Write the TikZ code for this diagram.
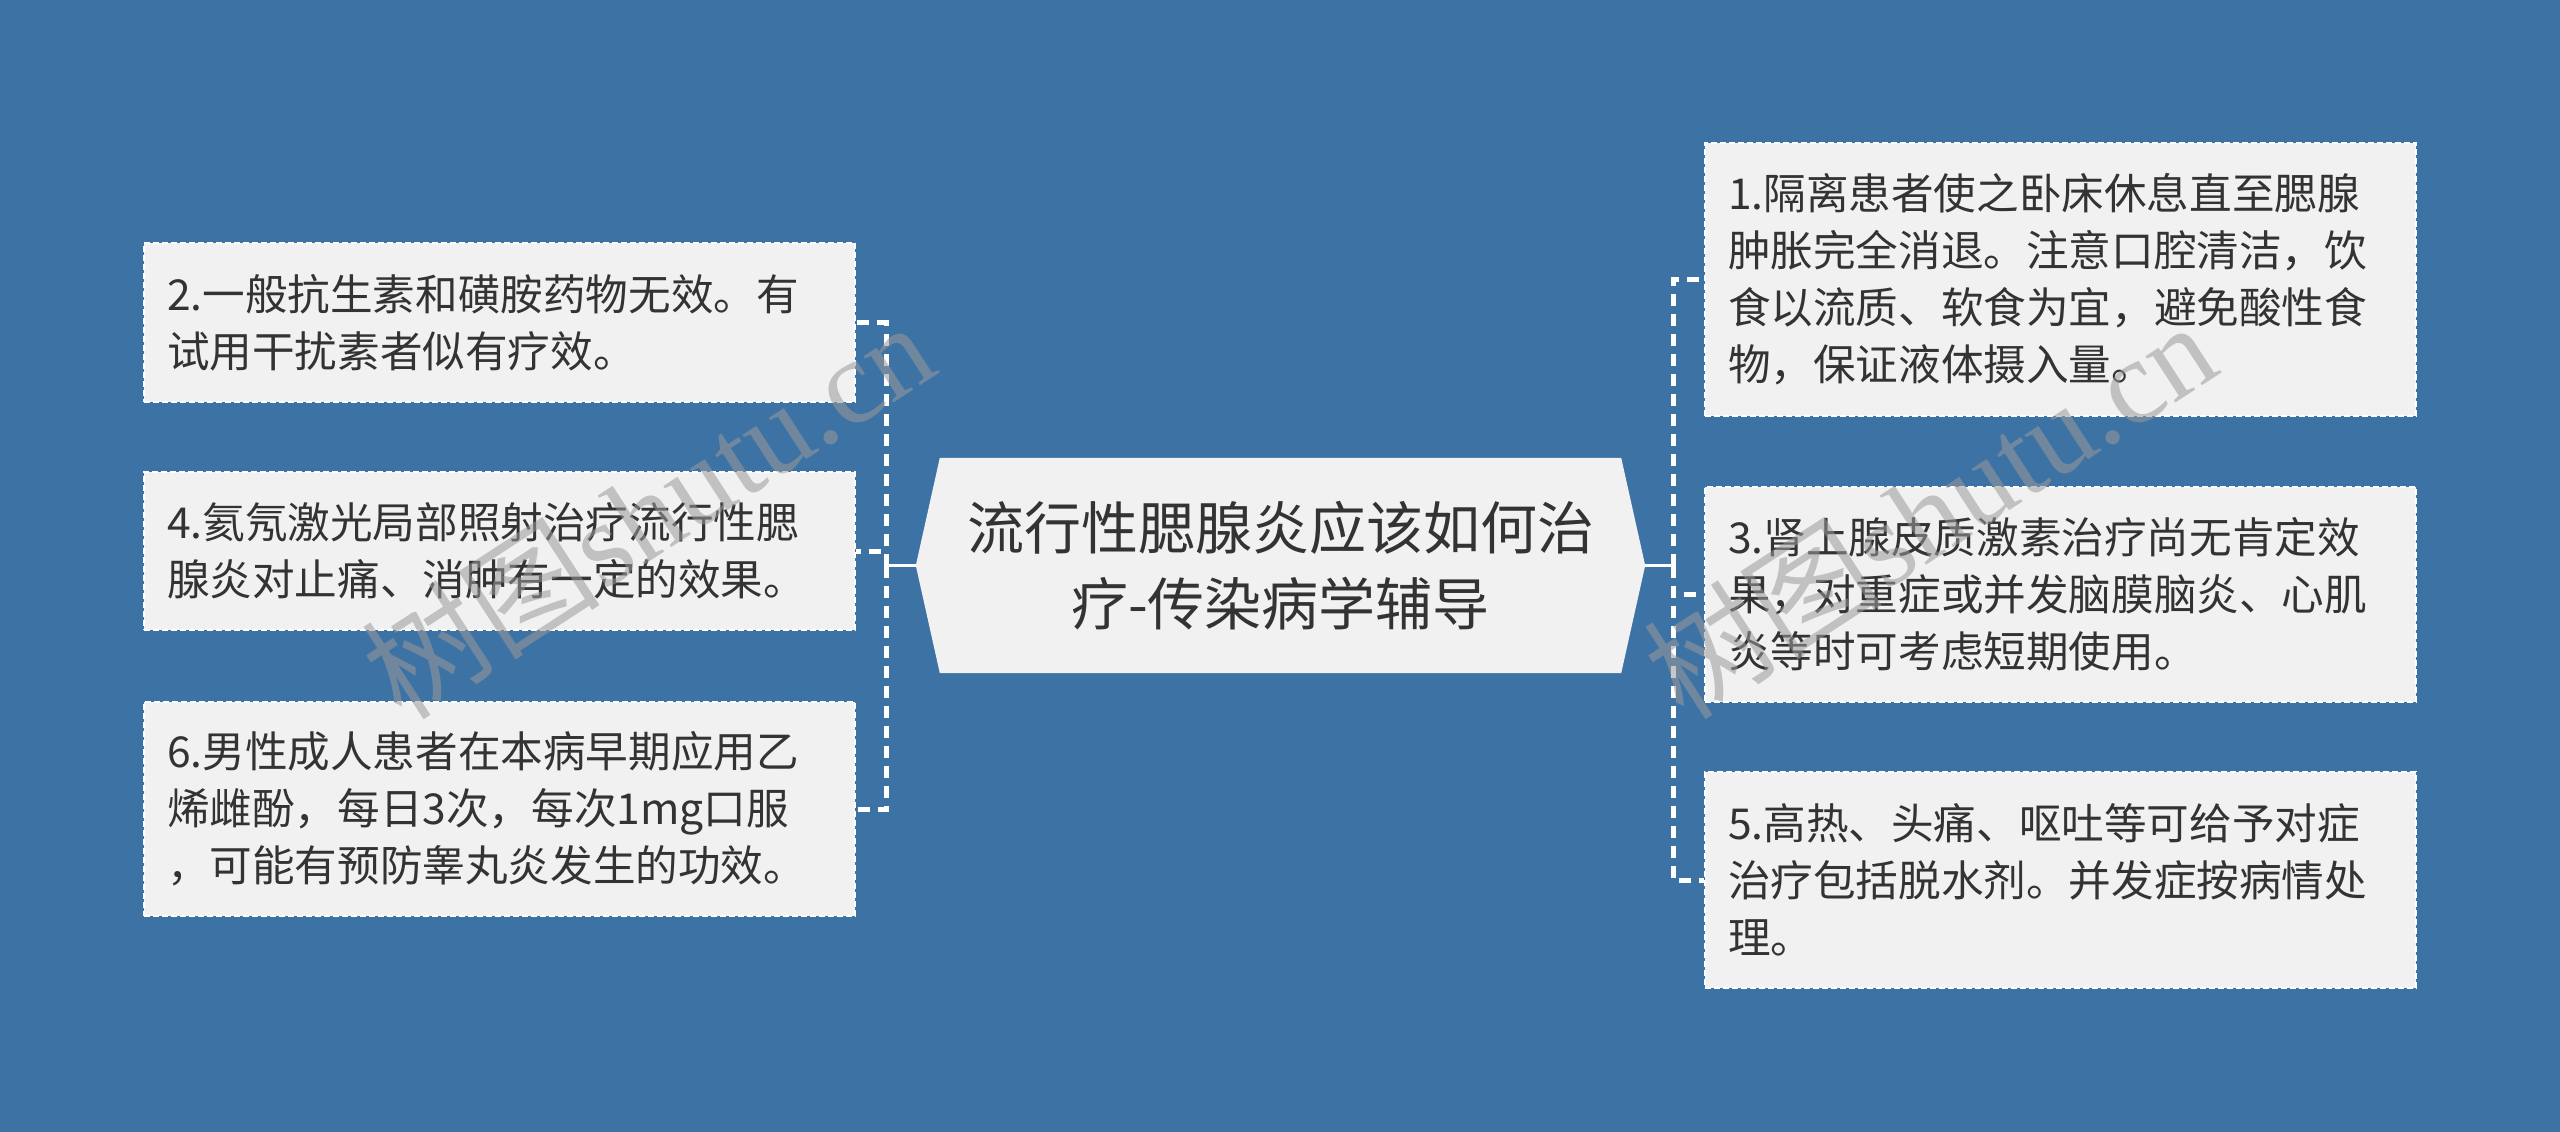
\documentclass[tikz,border=0pt]{standalone}
\usepackage{fontspec}
\newfontfamily\cjk{Noto Sans CJK SC}
\newfontfamily\wmlatin{Liberation Serif}
\usetikzlibrary{backgrounds}
\definecolor{bgblue}{HTML}{3D72A5}
\definecolor{boxfill}{HTML}{F1F1F1}
\definecolor{txt}{HTML}{333333}
\definecolor{wmgray}{HTML}{9A9A9A}
\begin{document}
\begin{tikzpicture}[x=1pt,y=-1pt,
  leafbox/.style={draw=white, line width=2pt, dash pattern=on 6pt off 3pt,
    fill=boxfill, text=txt, font={\cjk\fontsize{42.6pt}{57pt}\selectfont},
    align=left, text width=665pt, inner xsep=23pt, inner ysep=0pt,
    minimum width=711pt},
  titlebox/.style={text=txt, font={\cjk\fontsize{57pt}{76pt}\selectfont},
    align=center, inner sep=0pt, minimum width=729pt, minimum height=215pt},
  conn/.style={draw=white, line width=5pt, dash pattern=on 12pt off 8pt},
  trunk/.style={draw=white, line width=3.5pt},
  hexfill/.style={fill=boxfill},
  wm/.style={text=wmgray, text opacity=0.55, inner sep=0pt, rotate=33,
    font={\fontsize{120pt}{120pt}\selectfont}}
]
\begin{scope}[on background layer]
  \fill[bgblue] (0,0) rectangle (2560,1132);
\end{scope}

% central topic
\node[titlebox] (title) at (1280.5,565.5) {流行性腮腺炎应该如何治\\疗-传染病学辅导};
\begin{scope}[on background layer]
  \fill[hexfill] (title.west) -- ([xshift=24pt]title.north west)
    -- ([xshift=-24pt]title.north east) -- (title.east)
    -- ([xshift=-24pt]title.south east) -- ([xshift=24pt]title.south west) -- cycle;
\end{scope}

% left branches
\node[leafbox, minimum height=159pt] (b2) at (499.5,322.5)
  {2.一般抗生素和磺胺药物无效。有\\试用干扰素者似有疗效。};
\node[leafbox, minimum height=158pt] (b4) at (499.5,551)
  {4.氦氖激光局部照射治疗流行性腮\\腺炎对止痛、消肿有一定的效果。};
\node[leafbox, minimum height=214pt] (b6) at (499.5,809)
  {6.男性成人患者在本病早期应用乙\\烯雌酚，每日3次，每次1mg口服\\，可能有预防睾丸炎发生的功效。};

% right branches
\node[leafbox, minimum height=273pt] (b1) at (2060.5,279.5)
  {1.隔离患者使之卧床休息直至腮腺\\肿胀完全消退。注意口腔清洁，饮\\食以流质、软食为宜，避免酸性食\\物，保证液体摄入量。};
\node[leafbox, minimum height=215pt] (b3) at (2060.5,594.5)
  {3.肾上腺皮质激素治疗尚无肯定效\\果，对重症或并发脑膜脑炎、心肌\\炎等时可考虑短期使用。};
\node[leafbox, minimum height=216pt] (b5) at (2060.5,880)
  {5.高热、头痛、呕吐等可给予对症\\治疗包括脱水剂。并发症按病情处\\理。};

% connectors
\coordinate (lj) at (886,565.5);
\coordinate (rj) at (1673,565.5);
\draw[trunk] (title.west) -- (lj);
\draw[trunk] (title.east) -- (rj);
\draw[conn] (lj) |- (b2.east);
\draw[conn] (lj) |- (b4.east);
\draw[conn] (lj) |- (b6.east);
\draw[conn] (rj) |- (b1.west);
\draw[conn] (rj) |- (b3.west);
\draw[conn] (rj) |- (b5.west);

% watermarks
\node[wm] (wm1) at (647,509) {\cjk 树图\wmlatin shutu.cn};
\node[wm] (wm2) at (1929,509) {\cjk 树图\wmlatin shutu.cn};
\end{tikzpicture}
\end{document}
